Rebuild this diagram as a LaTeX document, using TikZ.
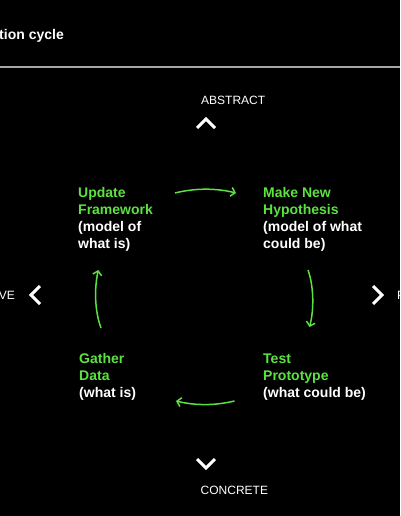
\documentclass[tikz,border=0pt]{standalone}
\usepackage{fontspec}
\setmainfont{Liberation Sans}
\usepackage{tikz}
\usetikzlibrary{positioning}
\usetikzlibrary{arrows.meta}
\definecolor{cyclegreen}{RGB}{92,226,64}
\definecolor{rulegray}{RGB}{165,165,165}

\newcommand{\grn}[1]{\textcolor{cyclegreen}{#1}}

\begin{document}
\begin{tikzpicture}[x=1pt, y=-1pt,
    stage/.style={anchor=base west, inner sep=0pt, align=left, text=white, font=\fontsize{14}{17}\selectfont\bfseries},
    pole/.style={inner sep=0pt, text=white, font=\fontsize{12}{14}\selectfont},
    flow/.style={draw=cyclegreen, line width=1.5pt, -{Straight Barb[length=4pt, width=9pt]}},
    chevron/.style={draw=white, line width=3pt, miter limit=4}]

    \useasboundingbox (0,0) rectangle (400,516);
    \clip (0,0) rectangle (400,516);
    \fill[black] (0,0) rectangle (400,516);

    \node [anchor=base east, inner sep=0pt, text=white, font=\fontsize{14}{17}\selectfont\bfseries] (title) at (64,39.5) {tion cycle};
    \draw[rulegray, line width=1.5pt] (0,67) -- (400,67);

    \node [pole, anchor=base west] (abstract) at (201,104.3) {ABSTRACT};
    \node [pole, anchor=base west] (concrete) at (200.5,494.5) {CONCRETE};
    \node [pole, anchor=base east] (leftpole) at (15,299.5) {VE};
    \node [pole, anchor=base west] (rightpole) at (397,299.5) {P};

    \draw[chevron] (197,128) -- (206,119) -- (215,128);
    \draw[chevron] (197,459) -- (206,468) -- (215,459);
    \draw[chevron] (40,286) -- (31,295) -- (40,304);
    \draw[chevron] (373,286) -- (382,295) -- (373,304);

    \node [stage] (update) at (78,248) {\grn{Update}\\\grn{Framework}\\(model of\\what is)};
    \node [stage] (hypothesis) at (263,248) {\grn{Make New}\\\grn{Hypothesis}\\(model of what\\could be)};
    \node [stage] (prototype) at (263,397) {\grn{Test}\\\grn{Prototype}\\(what could be)};
    \node [stage] (gather) at (79,397) {\grn{Gather}\\\grn{Data}\\(what is)};

    \coordinate (top-a) at (175,193);
    \coordinate (top-b) at (236,193);
    \coordinate (right-a) at (308,270);
    \coordinate (right-b) at (309.5,327);
    \coordinate (bottom-a) at (234.5,401);
    \coordinate (bottom-b) at (176,401);
    \coordinate (left-a) at (101,328);
    \coordinate (left-b) at (98.3,270);

    \draw[flow] (top-a) .. controls +(20,-5) and +(-20,-5) .. (top-b);
    \draw[flow] (right-a) .. controls +(6,17) and +(4.5,-17) .. (right-b);
    \draw[flow] (bottom-a) .. controls +(-20,4.7) and +(20,4.7) .. (bottom-b);
    \draw[flow] (left-a) .. controls +(-6.6,-18) and +(-3.9,18) .. (left-b);
\end{tikzpicture}
\end{document}
